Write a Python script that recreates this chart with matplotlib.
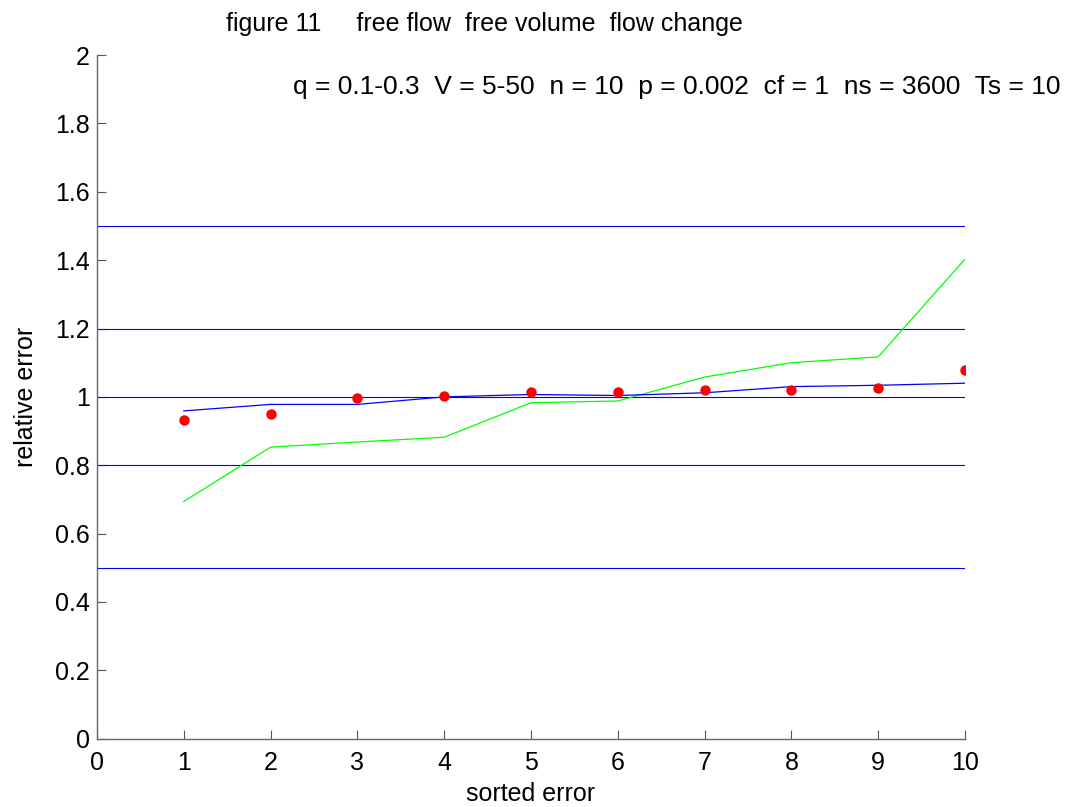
import matplotlib
matplotlib.use("Agg")
import matplotlib.pyplot as plt

plt.rcParams['font.family'] = ['Liberation Sans', 'DejaVu Sans']

x = [1, 2, 3, 4, 5, 6, 7, 8, 9, 10]
red_points = [0.932, 0.950, 0.998, 1.003, 1.015, 1.014, 1.020, 1.019, 1.027, 1.078]
blue_line = [0.959, 0.978, 0.978, 1.000, 1.007, 1.004, 1.012, 1.030, 1.034, 1.040]
green_line = [0.694, 0.853, 0.868, 0.882, 0.983, 0.988, 1.058, 1.100, 1.117, 1.403]
ref_levels = [0.5, 0.8, 1.0, 1.2, 1.5]
xticks = list(range(0, 11))
yticks = [0, 0.2, 0.4, 0.6, 0.8, 1, 1.2, 1.4, 1.6, 1.8, 2]
yticklabels = ['0', '0.2', '0.4', '0.6', '0.8', '1', '1.2', '1.4', '1.6', '1.8', '2']

FS = 18

fig = plt.figure(figsize=(10.67, 8.07), dpi=100)
ax = fig.add_axes([0.0909, 0.0846, 0.8135, 0.8472])

for lv in ref_levels:
    ax.plot([0, 10], [lv, lv], color='#0000ff', lw=0.8)
ax.plot(x, green_line, color='#00ff00', lw=0.9)
ax.plot(x, blue_line, color='#0000ff', lw=0.9)
ax.plot(x, red_points, 'o', color='#ff0000', markersize=7.5, markeredgewidth=0)

ax.set_xlim(0, 10)
ax.set_ylim(0, 2)
ax.set_xticks(xticks)
ax.set_yticks(yticks)
ax.set_yticklabels(yticklabels)
ax.tick_params(direction='in', length=6.5, labelsize=FS, color='#555555', width=0.8)
ax.tick_params(axis='x', pad=8.5)
ax.tick_params(axis='y', pad=5)
for s in ['top', 'right']:
    ax.spines[s].set_visible(False)
for s in ['left', 'bottom']:
    ax.spines[s].set_color('#666666')
    ax.spines[s].set_linewidth(1.0)

ax.set_xlabel('sorted error', fontsize=FS, labelpad=5.5)
ax.set_ylabel('relative error', fontsize=FS, labelpad=12.5)

fig.text(0.4536, 0.970, 'figure 11     free flow  free volume  flow change',
         ha='center', va='center', fontsize=FS)
fig.text(0.9935, 0.892, 'q = 0.1-0.3  V = 5-50  n = 10  p = 0.002  cf = 1  ns = 3600  Ts = 10',
         ha='right', va='center', fontsize=19)

fig.savefig('out.png', dpi=100)
